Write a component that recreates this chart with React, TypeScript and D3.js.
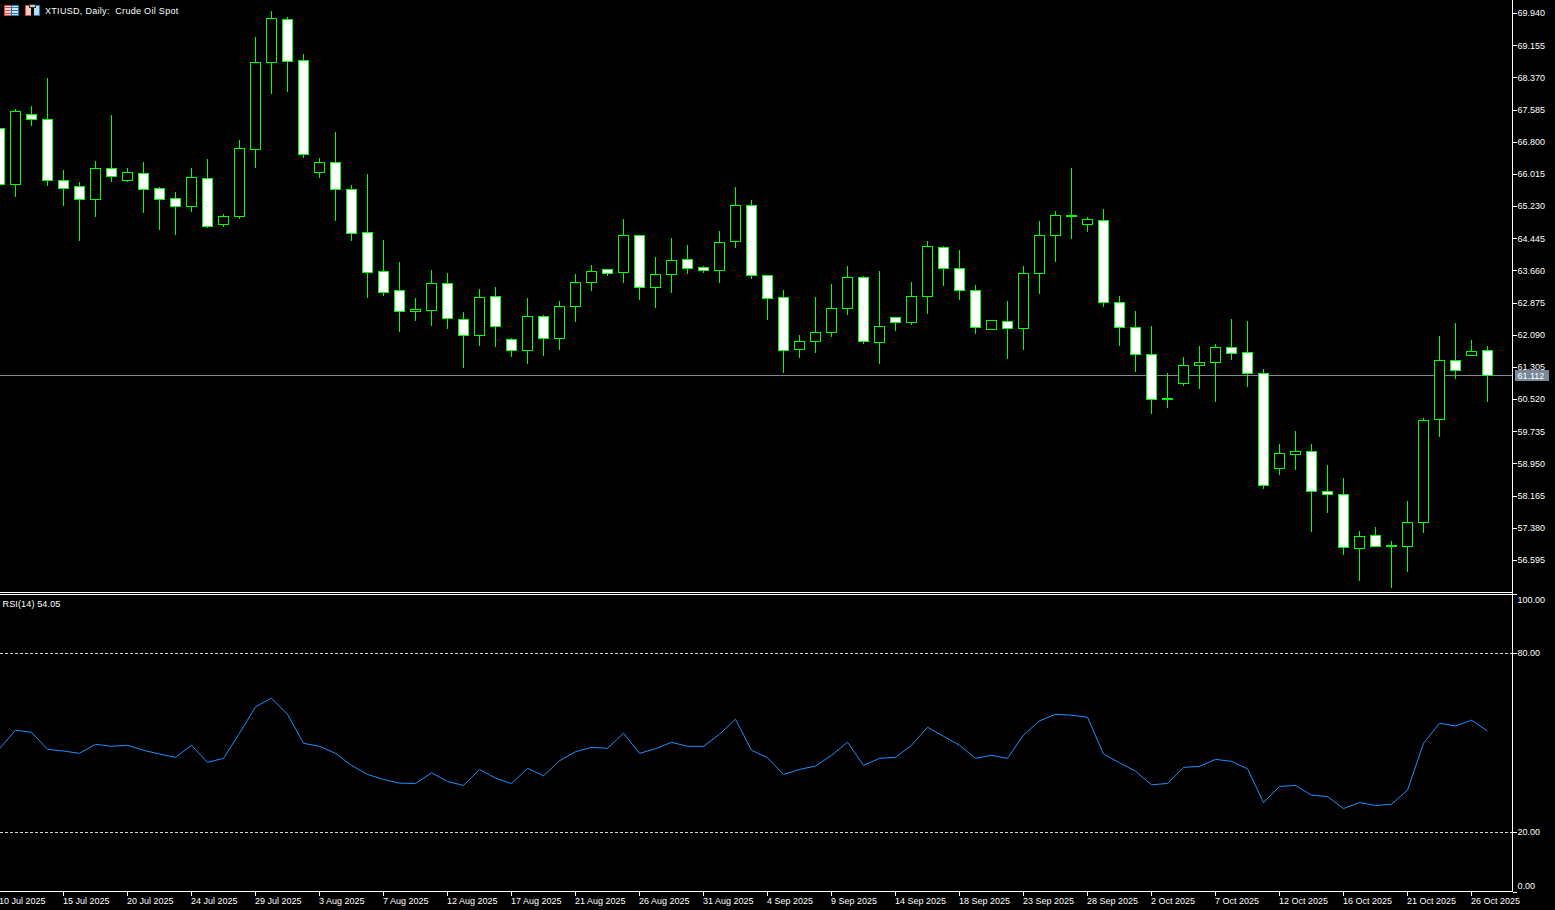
import { axisBottom, axisRight, curveLinear, line, scaleLinear, select } from "d3";
import React, { useLayoutEffect, useRef } from "react";

const WIDTH = 1555;
const HEIGHT = 910;
const AXIS_X = 1512.5;
const FONT = "'Liberation Sans', Arial, sans-serif";

const open = [
  67.134, 65.767, 67.475, 67.353, 65.865, 65.719, 65.401, 66.158, 65.865, 66.036,
  65.67, 65.426, 65.231, 65.914, 64.791, 64.987, 66.621, 68.744, 69.793, 68.793,
  66.06, 66.304, 65.645, 64.596, 63.645, 63.181, 62.669, 62.693, 63.352, 62.473,
  62.083, 63.035, 61.985, 61.717, 62.547, 62.01, 62.791, 63.376, 63.693, 63.62,
  64.523, 63.254, 63.571, 63.937, 63.742, 63.669, 64.377, 65.255, 63.547, 63.01,
  61.741, 61.937, 62.156, 62.742, 63.498, 61.912, 62.522, 62.4, 63.035, 64.23,
  63.718, 63.181, 62.229, 62.425, 62.254, 63.596, 64.523, 64.987, 64.791, 64.889,
  62.888, 62.278, 61.619, 60.521, 60.912, 61.351, 61.424, 61.79, 61.668, 61.156,
  58.838, 59.179, 59.253, 58.277, 58.203, 56.886, 57.203, 56.935, 56.935, 57.52,
  60.033, 61.473, 61.595, 61.717,
];
const high = [
  67.134, 67.597, 67.671, 68.354, 66.109, 65.816, 66.329, 67.451, 66.158, 66.304,
  65.694, 65.572, 66.158, 66.377, 65.035, 66.841, 69.354, 69.989, 69.842, 68.939,
  66.402, 67.036, 65.743, 66.011, 64.401, 63.864, 62.986, 63.669, 63.596, 62.644,
  63.205, 63.254, 62.01, 62.986, 62.571, 62.913, 63.571, 63.791, 63.693, 64.913,
  64.523, 63.986, 64.45, 64.279, 63.767, 64.621, 65.694, 65.377, 63.547, 63.181,
  62.083, 63.01, 63.327, 63.767, 63.523, 63.645, 62.522, 63.376, 64.377, 64.255,
  64.157, 63.303, 62.449, 62.913, 63.767, 64.865, 65.109, 66.158, 64.962, 65.157,
  63.035, 62.669, 62.303, 61.156, 61.546, 61.815, 61.863, 62.473, 62.425, 61.253,
  59.423, 59.741, 59.423, 58.911, 58.594, 57.301, 57.398, 57.057, 58.033, 60.058,
  62.059, 62.376, 61.961, 61.815,
];
const low = [
  65.767, 65.475, 67.207, 65.743, 65.255, 64.401, 64.987, 65.841, 65.841, 65.084,
  64.669, 64.547, 65.109, 64.718, 64.743, 64.938, 66.182, 67.988, 68.037, 66.426,
  65.938, 64.889, 64.401, 63.01, 63.059, 62.181, 62.449, 62.327, 62.254, 61.302,
  61.839, 61.815, 61.571, 61.4, 61.595, 61.741, 62.425, 63.181, 63.547, 63.376,
  62.961, 62.766, 63.132, 63.596, 63.62, 63.376, 64.23, 63.474, 62.473, 61.18,
  61.546, 61.668, 62.059, 62.595, 61.888, 61.4, 62.205, 62.351, 62.62, 63.303,
  62.961, 62.132, 62.229, 61.522, 61.741, 63.108, 63.889, 64.45, 64.621, 62.791,
  61.839, 61.205, 60.18, 60.326, 60.863, 60.79, 60.473, 61.497, 60.839, 58.35,
  58.691, 58.813, 57.301, 57.764, 56.739, 56.105, 56.935, 55.934, 56.325, 57.276,
  59.619, 61.034, 61.595, 60.473,
];
const close = [
  65.767, 67.549, 67.353, 65.865, 65.67, 65.401, 66.158, 65.963, 66.06, 65.645,
  65.401, 65.231, 65.938, 64.743, 64.987, 66.646, 68.744, 69.818, 68.769, 66.499,
  66.304, 65.645, 64.572, 63.62, 63.132, 62.669, 62.717, 63.352, 62.498, 62.083,
  63.01, 62.303, 61.717, 62.547, 62.01, 62.791, 63.376, 63.645, 63.596, 64.523,
  63.254, 63.571, 63.913, 63.718, 63.669, 64.352, 65.255, 63.547, 62.986, 61.717,
  61.937, 62.156, 62.742, 63.498, 61.937, 62.303, 62.4, 63.035, 64.255, 63.718,
  63.181, 62.278, 62.449, 62.254, 63.596, 64.523, 65.011, 65.011, 64.913, 62.888,
  62.278, 61.619, 60.521, 60.546, 61.351, 61.424, 61.79, 61.644, 61.156, 58.423,
  59.204, 59.253, 58.277, 58.203, 56.91, 57.179, 56.935, 56.959, 57.52, 60.009,
  61.473, 61.229, 61.693, 61.112,
];
const rsi = [
  48.08, 54.28, 53.6, 47.88, 47.31, 46.53, 49.56, 48.89, 49.23, 47.54,
  46.3, 45.19, 49.23, 43.5, 44.85, 53.27, 62.12, 65.05, 59.66, 49.9,
  48.89, 46.53, 42.49, 39.46, 37.78, 36.53, 36.43, 40.0, 37.1, 35.76,
  41.14, 38.22, 36.36, 41.48, 38.99, 44.04, 47.07, 48.55, 48.22, 53.27,
  46.53, 48.08, 50.24, 48.89, 48.89, 52.93, 57.98, 47.54, 45.05, 39.46,
  41.14, 42.26, 45.86, 50.24, 42.49, 44.85, 45.19, 49.23, 55.29, 52.26,
  49.23, 44.85, 45.86, 44.85, 52.7, 57.41, 59.66, 59.33, 58.65, 46.3,
  43.37, 40.57, 35.96, 36.43, 41.82, 42.15, 44.51, 43.84, 41.35, 30.03,
  35.42, 35.76, 32.49, 32.05, 28.01, 30.03, 29.02, 29.46, 34.18, 49.9,
  56.63, 55.72, 57.64, 54.05,
];

const priceTicks = [
  69.94, 69.155, 68.37, 67.585, 66.8, 66.015, 65.23, 64.445, 63.66, 62.875,
  62.09, 61.305, 60.52, 59.735, 58.95, 58.165, 57.38, 56.595,
];
const rsiTicks = [100, 80, 20, 0];
const rsiLevels = [80, 20];
const lastPrice = 61.112;

// one label every 4 bars, starting at the first bar
const dateLabels = [
  "10 Jul 2025", "15 Jul 2025", "20 Jul 2025", "24 Jul 2025", "29 Jul 2025", "3 Aug 2025",
  "7 Aug 2025", "12 Aug 2025", "17 Aug 2025", "21 Aug 2025", "26 Aug 2025", "31 Aug 2025",
  "4 Sep 2025", "9 Sep 2025", "14 Sep 2025", "18 Sep 2025", "23 Sep 2025", "28 Sep 2025",
  "2 Oct 2025", "7 Oct 2025", "12 Oct 2025", "16 Oct 2025", "21 Oct 2025", "26 Oct 2025",
];

const snap = (v: number) => Math.floor(v) + 0.5;

const App: React.FC = () => {
  const ref = useRef<SVGSVGElement>(null);

  useLayoutEffect(() => {
    const svg = select(ref.current);
    svg.selectAll("*").remove();

    const x = scaleLinear().domain([0, close.length - 1]).range([-0.5, 1487.5]);
    const yPrice = scaleLinear().domain([56.595, 69.94]).range([560.4, 13.5]);
    const yRsi = scaleLinear().domain([0, 100]).range([892, 594]);

    svg.append("rect").attr("width", WIDTH).attr("height", HEIGHT).attr("fill", "#000");

    // level lines of the indicator pane
    svg
      .append("g")
      .selectAll("line")
      .data(rsiLevels)
      .enter()
      .append("line")
      .attr("x1", 0)
      .attr("x2", AXIS_X)
      .attr("y1", (d) => snap(yRsi(d)))
      .attr("y2", (d) => snap(yRsi(d)))
      .attr("stroke", "#d6d6d6")
      .attr("stroke-dasharray", "3 2")
      .attr("shape-rendering", "crispEdges");

    // last price line goes under the candles
    svg
      .append("line")
      .attr("x1", 0)
      .attr("x2", AXIS_X)
      .attr("y1", snap(yPrice(lastPrice)))
      .attr("y2", snap(yPrice(lastPrice)))
      .attr("stroke", "#808890")
      .attr("shape-rendering", "crispEdges");

    const candles = svg
      .append("g")
      .attr("shape-rendering", "crispEdges")
      .selectAll("g")
      .data(close.map((_, i) => i))
      .enter()
      .append("g");

    // wick covers the whole pixel rows of its high and low
    candles
      .append("line")
      .attr("x1", (i) => x(i))
      .attr("x2", (i) => x(i))
      .attr("y1", (i) => snap(yPrice(high[i])) - 0.5)
      .attr("y2", (i) => snap(yPrice(low[i])) + 0.5)
      .attr("stroke", "#00ff00");

    candles
      .append("rect")
      .attr("x", (i) => x(i) - 5)
      .attr("width", 10)
      .attr("y", (i) => snap(yPrice(Math.max(open[i], close[i]))))
      .attr("height", (i) => snap(yPrice(Math.min(open[i], close[i]))) - snap(yPrice(Math.max(open[i], close[i]))))
      .attr("fill", (i) => (close[i] > open[i] ? "#000" : "#fff"))
      .attr("stroke", "#00ff00");

    const rsiLine = line<number>()
      .x((_, i) => x(i))
      .y((d) => yRsi(d))
      .curve(curveLinear);

    svg
      .append("path")
      .attr("d", rsiLine(rsi))
      .attr("fill", "none")
      .attr("stroke", "#1e90ff")
      .attr("stroke-width", 1);

    // pane borders
    const borders = svg.append("g").attr("stroke", "#fff").attr("shape-rendering", "crispEdges");
    borders.append("line").attr("x1", 0).attr("x2", AXIS_X).attr("y1", 592.5).attr("y2", 592.5);
    borders.append("line").attr("x1", 0).attr("x2", AXIS_X).attr("y1", 594.5).attr("y2", 594.5);
    borders.append("line").attr("x1", 0).attr("x2", AXIS_X).attr("y1", 891.5).attr("y2", 891.5);
    borders.append("line").attr("x1", AXIS_X).attr("x2", AXIS_X).attr("y1", 0).attr("y2", 891.5);

    const styleAxis = (g: any) => {
      g.select(".domain").remove();
      g.attr("font-family", FONT).attr("font-size", 9);
      g.selectAll("line").attr("stroke", "#fff").attr("shape-rendering", "crispEdges");
      g.selectAll("text").attr("fill", "#fff");
    };

    svg
      .append("g")
      .attr("transform", `translate(${AXIS_X},0)`)
      .call(
        axisRight(yPrice)
          .tickValues(priceTicks)
          .tickFormat((d) => (d as number).toFixed(3))
          .tickSize(4)
          .tickPadding(1)
          .offset(0) as any,
      )
      .call(styleAxis);

    const rsiAxis = svg
      .append("g")
      .attr("transform", `translate(${AXIS_X},0)`)
      .call(
        axisRight(yRsi)
          .tickValues(rsiTicks)
          .tickFormat((d) => (d as number).toFixed(2))
          .tickSize(4)
          .tickPadding(1)
          .offset(0) as any,
      )
      .call(styleAxis);
    // end labels stay inside the pane
    rsiAxis.selectAll<SVGTextElement, number>("text").attr("y", (d) => (d === 100 ? 6 : d === 0 ? -6 : 0));

    const timeAxis = svg
      .append("g")
      .attr("transform", "translate(0,891.5)")
      .call(
        axisBottom(x)
          .tickValues(dateLabels.map((_, i) => i * 4))
          .tickFormat((_, i) => dateLabels[i])
          .tickSize(4)
          .tickPadding(2)
          .offset(0) as any,
      )
      .call(styleAxis);
    timeAxis.selectAll("text").attr("text-anchor", "start").attr("dx", -0.5);

    // last price tag
    svg
      .append("rect")
      .attr("x", 1515)
      .attr("y", snap(yPrice(lastPrice)) - 5.5)
      .attr("width", 34)
      .attr("height", 11)
      .attr("fill", "#778899");
    svg
      .append("text")
      .attr("x", 1517.5)
      .attr("y", snap(yPrice(lastPrice)) + 3.5)
      .attr("fill", "#fff")
      .attr("font-family", FONT)
      .attr("font-size", 9)
      .text(lastPrice.toFixed(3));

    const caption = svg.append("g").attr("fill", "#fff").attr("font-family", FONT).attr("font-size", 9);
    caption
      .append("text")
      .attr("x", 45)
      .attr("y", 14)
      .attr("letter-spacing", 0.3)
      .attr("xml:space", "preserve")
      .text("XTIUSD, Daily:  Crude Oil Spot");
    caption.append("text").attr("x", 2.5).attr("y", 607).attr("letter-spacing", 0.15).text("RSI(14) 54.05");

    // toolbar icons at the top left
    const icons = svg.append("g").attr("shape-rendering", "crispEdges");
    icons.append("rect").attr("x", 4.5).attr("y", 5.5).attr("width", 7).attr("height", 10).attr("fill", "#f4d6d2").attr("stroke", "#d9453a");
    icons.append("rect").attr("x", 11.5).attr("y", 5.5).attr("width", 7).attr("height", 10).attr("fill", "#d2e6f4").attr("stroke", "#1f77b8");
    [7, 10, 13].forEach((y) => {
      icons.append("rect").attr("x", 5).attr("y", y).attr("width", 6).attr("height", 1).attr("fill", "#d9453a");
      icons.append("rect").attr("x", 12).attr("y", y).attr("width", 6).attr("height", 1).attr("fill", "#1f77b8");
    });
    icons.append("rect").attr("x", 25.5).attr("y", 5.5).attr("width", 7).attr("height", 10).attr("fill", "#f6c9c0").attr("stroke", "#d9453a");
    icons.append("rect").attr("x", 32.5).attr("y", 5.5).attr("width", 7).attr("height", 10).attr("fill", "#bcdcf2").attr("stroke", "#1f77b8");
    icons.append("rect").attr("x", 29.5).attr("y", 4.5).attr("width", 6).attr("height", 3).attr("fill", "#c8c8c8").attr("stroke", "#333");
    icons.append("rect").attr("x", 31).attr("y", 8).attr("width", 3).attr("height", 8).attr("fill", "#000");

    return () => {
      svg.selectAll("*").remove();
    };
  }, []);

  return (
    <svg
      ref={ref}
      width={WIDTH}
      height={HEIGHT}
      style={{ position: "absolute", left: 0, top: 0, display: "block" }}
    />
  );
};

export default App;
